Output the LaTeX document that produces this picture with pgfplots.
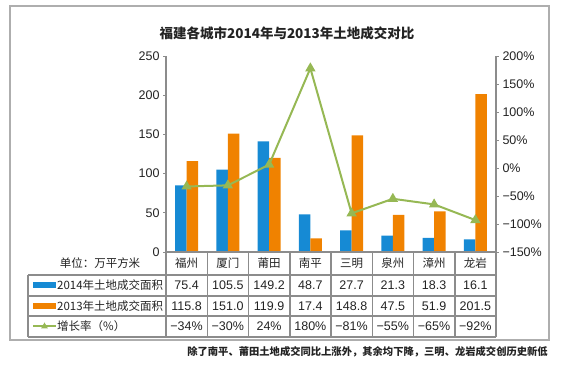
\documentclass[border=0pt]{standalone}
\usepackage{pgfplots}
\pgfplotsset{compat=1.18}
\usepackage{fontspec}
\setmainfont{Liberation Sans}
\newfontfamily\cjk{Noto Sans CJK SC}
\definecolor{cblue}{RGB}{22,138,212}
\definecolor{corange}{RGB}{240,130,0}
\definecolor{cgreen}{RGB}{150,184,84}
\definecolor{cgrid}{RGB}{140,140,140}
\definecolor{ctext}{RGB}{35,35,35}
\begin{document}
\begin{tikzpicture}
\path (0,0) rectangle (566pt,366pt);
\draw[cgrid!70, line width=1.2pt] (10pt,26pt) rectangle (549pt,360pt);
\node[text=ctext] at (287pt,333pt) {\cjk\bfseries\fontsize{13.5}{13.5}\selectfont 福建各城市2014年与2013年土地成交对比};
\begin{axis}[
  at={(166pt,114pt)}, anchor=south west, scale only axis,
  width=330pt, height=196pt,
  xmin=-0.5, xmax=7.5, ymin=0, ymax=250,
  axis x line=none, axis y line*=left,
  ytick={0,50,...,250},
  y axis line style={cgrid, line width=1.3pt, -},
  tick style={cgrid, line width=0.8pt},
  tick align=outside, major tick length=3pt,
  yticklabel style={font=\fontsize{12.5}{12.5}\selectfont, text=ctext},
  /pgf/number format/assume math mode=true,
  ybar=0pt, bar width=11.5pt,
  clip=false,
]
\addplot[fill=cblue, draw=none] coordinates {(0,85) (1,105) (2,141) (3,48) (4,27.5) (5,21) (6,18) (7,16)};
\addplot[fill=corange, draw=none] coordinates {(0,115.8) (1,151) (2,119.9) (3,17.4) (4,148.8) (5,47.5) (6,51.9) (7,201.5)};
\end{axis}
\begin{axis}[
  at={(166pt,114pt)}, anchor=south west, scale only axis,
  width=330pt, height=196pt,
  xmin=-0.5, xmax=7.5, ymin=-150, ymax=200,
  axis x line=none, axis y line*=right,
  ytick={-150,-100,-50,0,50,100,150,200},
  yticklabels={−150\%,−100\%,−50\%,0\%,50\%,100\%,150\%,200\%},
  y axis line style={cgrid, line width=1.3pt, -},
  tick style={cgrid, line width=0.8pt},
  tick align=outside, major tick length=3pt,
  yticklabel style={font=\fontsize{12.5}{12.5}\selectfont, text=ctext},
  clip=false,
]
\addplot[cgreen, line width=2pt, mark=triangle*, mark size=4pt, mark options={fill=cgreen}] coordinates {(0,-33) (1,-31) (2,6) (3,178) (4,-81) (5,-55) (6,-65) (7,-93)};
\end{axis}
% table grid
\begin{scope}[cgrid, line width=1.5pt]
\draw (166pt,114pt) -- (496pt,114pt);
\draw (28pt,91pt) -- (496pt,91pt);
\draw (28pt,70pt) -- (496pt,70pt);
\draw (28pt,50pt) -- (496pt,50pt);
\draw (28pt,29pt) -- (496pt,29pt);
\draw (28pt,91pt) -- (28pt,29pt);
\foreach \k in {0,...,8} {\draw ({166pt+41.25pt*\k},114pt) -- ({166pt+41.25pt*\k},29pt);}
\end{scope}
\node[text=ctext] at (100pt,103pt) {\cjk\fontsize{11.5}{11.5}\selectfont 单位：万平方米};
\foreach \n [count=\i from 0] in {福州,厦门,莆田,南平,三明,泉州,漳州,龙岩} {
  \node[text=ctext] at ({186.6pt+41.25pt*\i},102.5pt) {\cjk\fontsize{11.5}{11.5}\selectfont \n};
}
\foreach \n [count=\i from 0] in {75.4,105.5,149.2,48.7,27.7,21.3,18.3,16.1} {
  \node[text=ctext] at ({186.6pt+41.25pt*\i},80.5pt) {\fontsize{12.5}{12.5}\selectfont \n};
}
\foreach \n [count=\i from 0] in {115.8,151.0,119.9,17.4,148.8,47.5,51.9,201.5} {
  \node[text=ctext] at ({186.6pt+41.25pt*\i},60pt) {\fontsize{12.5}{12.5}\selectfont \n};
}
\foreach \n [count=\i from 0] in {−34\%,−30\%,24\%,180\%,−81\%,−55\%,−65\%,−92\%} {
  \node[text=ctext] at ({186.6pt+41.25pt*\i},39.5pt) {\fontsize{12.5}{12.5}\selectfont \n};
}
% legend keys
\fill[cblue] (33pt,77.5pt) rectangle (56pt,83.5pt);
\fill[corange] (33pt,57pt) rectangle (56pt,63pt);
\draw[cgreen, line width=2pt] (33pt,39.5pt) -- (56pt,39.5pt);
\fill[cgreen] (44.5pt,39.5pt) ++(90:4pt) -- ++(-120:6.9pt) -- ++(0:6.9pt) -- cycle;
\node[anchor=west, text=ctext, inner sep=0pt] at (57pt,80.5pt) {\cjk\fontsize{11.5}{11.5}\selectfont 2014年土地成交面积};
\node[anchor=west, text=ctext, inner sep=0pt] at (57pt,60pt) {\cjk\fontsize{11.5}{11.5}\selectfont 2013年土地成交面积};
\node[anchor=west, text=ctext, inner sep=0pt] at (57pt,39.5pt) {\cjk\fontsize{11.5}{11.5}\selectfont 增长率（\%）};
\node[anchor=east, text=ctext, inner sep=0pt] at (548pt,14pt) {\cjk\bfseries\fontsize{10.3}{10.3}\selectfont 除了南平、莆田土地成交同比上涨外，其余均下降，三明、龙岩成交创历史新低};
\end{tikzpicture}
\end{document}
